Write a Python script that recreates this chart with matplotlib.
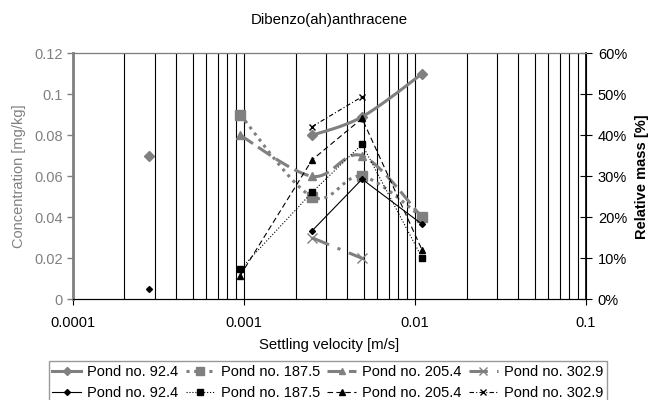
import numpy as np
import matplotlib.pyplot as plt
from matplotlib.ticker import FuncFormatter, NullFormatter

plt.rcParams['font.family'] = ['Liberation Sans', 'DejaVu Sans']

GRAY = '#808080'

# settling velocity classes [m/s]
velocity = [0.00028, 0.00095, 0.0025, 0.0049, 0.011]
ponds = ['92.4', '187.5', '205.4', '302.9']

# concentration [mg/kg], None = no sample
conc_92 = [0.070, None, 0.080, 0.089, 0.110]
conc_187 = [None, 0.090, 0.050, 0.060, 0.040]
conc_205 = [None, 0.080, 0.060, 0.070, 0.040]
conc_302 = [None, None, 0.030, 0.020, None]

# relative mass [fraction]
mass_92 = [0.024, None, 0.167, 0.293, 0.183]
mass_187 = [None, 0.073, 0.261, 0.378, 0.101]
mass_205 = [None, 0.058, 0.340, 0.441, 0.120]
mass_302 = [None, None, 0.421, 0.494, None]


def segments(xs, ys):
    # split into runs of consecutive defined values
    runs, cur = [], []
    for x, y in zip(xs, ys):
        if y is None:
            if cur:
                runs.append(cur)
            cur = []
        else:
            cur.append((x, y))
    if cur:
        runs.append(cur)
    return runs


def smooth(run, n=30):
    # Catmull-Rom curve in log-x space
    if len(run) < 3:
        return [p[0] for p in run], [p[1] for p in run]
    lx = np.log10([p[0] for p in run])
    y = np.array([p[1] for p in run])
    P = np.column_stack([lx, y])
    P = np.vstack([P[0], P, P[-1]])
    out = []
    t = np.linspace(0, 1, n)[:, None]
    for i in range(1, len(P) - 2):
        p0, p1, p2, p3 = P[i - 1], P[i], P[i + 1], P[i + 2]
        c = 0.5 * ((2 * p1) + (-p0 + p2) * t + (2 * p0 - 5 * p1 + 4 * p2 - p3) * t ** 2
                   + (-p0 + 3 * p1 - 3 * p2 + p3) * t ** 3)
        out.append(c)
    c = np.vstack(out)
    return 10 ** c[:, 0], c[:, 1]


def draw(ax, xs, ys, curved, **kw):
    marker = kw.pop('marker')
    ms = kw.pop('ms')
    for run in segments(xs, ys):
        if curved:
            sx, sy = smooth(run)
        else:
            sx, sy = [p[0] for p in run], [p[1] for p in run]
        ax.plot(sx, sy, **kw)
    px = [x for x, y in zip(xs, ys) if y is not None]
    py = [y for y in ys if y is not None]
    ax.plot(px, py, linestyle='none', marker=marker, ms=ms,
            color=kw['color'], mec=kw['color'])


fig = plt.figure(figsize=(6.49, 4.0), dpi=100)
ax = fig.add_axes([0.1125, 0.2518, 0.7905, 0.615])
ax2 = ax.twinx()

ax.set_xscale('log')
ax.set_xlim(0.0001, 0.1)
ax.set_ylim(0, 0.12)
ax2.set_ylim(0, 0.6)

# vertical grid at every log step
ax.xaxis.set_minor_formatter(NullFormatter())
ax.grid(True, which='both', axis='x', color='black', lw=0.8)
ax.set_axisbelow(True)

gray_styles = [
    dict(ls='-', marker='D', ms=5),
    dict(ls=(0, (1, 1.5)), marker='s', ms=7),
    dict(ls=(0, (5, 2)), marker='^', ms=6),
    dict(ls=(0, (6, 3, 1, 3)), marker='x', ms=7),
]
black_styles = [
    dict(ls='-', marker='D', ms=3),
    dict(ls=':', marker='s', ms=4),
    dict(ls=(0, (5, 3)), marker='^', ms=4),
    dict(ls=(0, (4, 2, 1, 2)), marker='x', ms=5),
]
conc = [conc_92, conc_187, conc_205, conc_302]
mass = [mass_92, mass_187, mass_205, mass_302]

for ys, st in zip(conc, gray_styles):
    draw(ax, velocity, ys, True, color=GRAY, lw=2.2, **st)
for ys, st in zip(mass, black_styles):
    draw(ax2, velocity, ys, False, color='black', lw=0.8, **st)

# axes styling
ax.set_xticks([0.0001, 0.001, 0.01, 0.1])
ax.set_xticklabels(['0.0001', '0.001', '0.01', '0.1'])
ax.tick_params(axis='x', which='major', direction='out', length=4, labelsize=10.5, pad=8)
ax.tick_params(axis='x', which='minor', length=0)
ax.set_yticks(np.arange(0, 0.121, 0.02))
ax.yaxis.set_major_formatter(FuncFormatter(lambda v, p: '0' if v == 0 else f'{v:g}'))
ax.tick_params(axis='y', colors=GRAY, labelcolor=GRAY, direction='out', length=4,
               width=1, labelsize=10.5)
ax2.set_yticks(np.arange(0, 0.61, 0.1))
ax2.yaxis.set_major_formatter(FuncFormatter(lambda v, p: f'{v * 100:.0f}%'))
ax2.tick_params(axis='y', direction='inout', length=9, labelsize=10.5, pad=4)

ax2.spines['left'].set_color(GRAY)
ax2.spines['left'].set_linewidth(2)
ax2.spines['top'].set_color(GRAY)
ax2.spines['top'].set_linewidth(0.8)
ax2.spines['bottom'].set_color('black')
ax2.spines['right'].set_color('black')
ax2.spines['right'].set_linewidth(1.2)

ax.set_ylabel('Concentration [mg/kg]', color=GRAY, fontsize=10.5, labelpad=6)
ax2.set_ylabel('Relative mass [%]', fontsize=10.5, fontweight='bold', labelpad=6)
ax.set_xlabel('Settling velocity [m/s]', fontsize=10.7, labelpad=6)
ax.set_title('Dibenzo(ah)anthracene', fontsize=10.8, pad=21)

# legend: gray row on top, black row below
handles, labels = [], []
for p, gs, bs in zip(ponds, gray_styles, black_styles):
    h1, = ax.plot([], [], color=GRAY, lw=2.2, ls=gs['ls'], marker=gs['marker'], ms=gs['ms'] * 0.8)
    h2, = ax.plot([], [], color='black', lw=0.8, ls=bs['ls'], marker=bs['marker'], ms=bs['ms'])
    handles += [h1, h2]
    labels += [f'Pond no. {p}', f'Pond no. {p}']
leg = fig.legend(handles, labels, ncol=4, loc='upper center', bbox_to_anchor=(0.505, 0.115),
                 fontsize=10.5, frameon=True, fancybox=False, edgecolor=GRAY,
                 handlelength=2.0, handletextpad=0.4, columnspacing=0.5,
                 labelspacing=0.5, borderpad=0.25)
leg.get_frame().set_linewidth(1.0)

fig.savefig('out.png', dpi=100)
